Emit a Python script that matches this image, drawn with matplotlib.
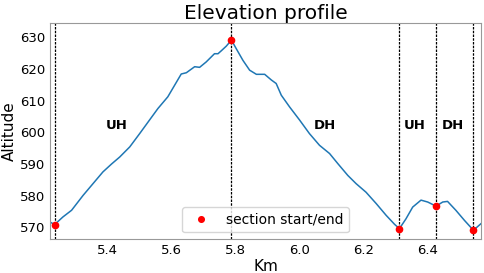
import numpy as np
import matplotlib.pyplot as plt

# profile (km, altitude)
km = [5.219, 5.234, 5.260, 5.287, 5.323, 5.354, 5.385, 5.412, 5.4375, 5.469,
      5.500, 5.531, 5.557, 5.588, 5.609, 5.630, 5.646, 5.672, 5.6875, 5.708,
      5.734, 5.745, 5.755, 5.771, 5.787, 5.802, 5.823, 5.844, 5.865, 5.891,
      5.912, 5.927, 5.943, 5.969, 6.000, 6.031, 6.0625, 6.094, 6.120, 6.151,
      6.177, 6.208, 6.240, 6.271, 6.297, 6.3125, 6.333, 6.354, 6.380, 6.401,
      6.427, 6.448, 6.463, 6.489, 6.516, 6.544, 6.568]
alt = [571.7, 570.9, 573.3, 575.4, 580.1, 583.8, 587.5, 590.0, 592.2, 595.4,
       599.6, 603.9, 607.5, 611.2, 614.8, 618.4, 618.8, 620.7, 620.5, 622.2,
       624.8, 624.8, 625.7, 627.2, 629.1, 626.4, 622.7, 619.6, 618.3, 618.3,
       616.5, 615.4, 611.7, 608.0, 603.9, 599.6, 595.9, 593.3, 590.1, 586.4,
       583.8, 581.1, 577.5, 573.8, 571.0, 569.6, 572.7, 576.4, 578.6, 578.0,
       576.7, 578.0, 578.2, 575.4, 572.2, 569.1, 571.2]

# section boundaries
sec_km = [5.234, 5.787, 6.3125, 6.427, 6.544]
sec_alt = [570.9, 629.1, 569.6, 576.7, 569.1]

labels = ["UH", "DH", "UH", "DH"]
label_km = [5.428, 6.078, 6.36, 6.48]

fig = plt.figure(figsize=(4.84, 2.73), dpi=100)
ax = fig.add_axes([0.103, 0.123, 0.891, 0.794])

ax.plot(km, alt, color='tab:blue', linewidth=1.1)
for x in sec_km:
    ax.axvline(x, color='black', linestyle=(0, (2, 1)), linewidth=0.9)
ax.plot(sec_km, sec_alt, 'o', color='red', markersize=4.5,
        label='section start/end', zorder=5)

for lab, x in zip(labels, label_km):
    ax.text(x, 602, lab, fontsize=9.5, fontweight='bold', ha='center', va='center')

ax.set_xlim(km[0], km[-1])
ax.set_ylim(566.2, 634.6)
ax.set_xticks([5.4, 5.6, 5.8, 6.0, 6.2, 6.4])
ax.set_yticks([570, 580, 590, 600, 610, 620, 630])
ax.tick_params(labelsize=9.5, length=0, pad=3.5)
for s in ax.spines.values():
    s.set_color('#999999')
ax.set_title("Elevation profile", fontsize=14.5, pad=2.5)
ax.set_xlabel("Km", fontsize=11, labelpad=1)
ax.set_ylabel("Altitude", fontsize=11, labelpad=2)
ax.legend(loc='lower center', fontsize=10, numpoints=1, markerscale=0.9)

fig.savefig("out.png", dpi=100)
